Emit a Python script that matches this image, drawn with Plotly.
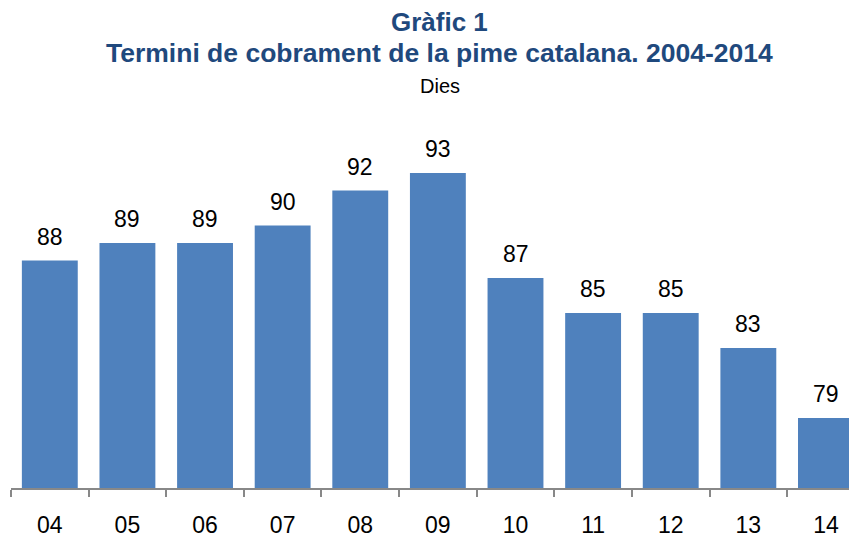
import plotly.graph_objects as go

years = ["04", "05", "06", "07", "08", "09", "10", "11", "12", "13", "14"]
days = [88, 89, 89, 90, 92, 93, 87, 85, 85, 83, 79]

bar_color = "#4F81BD"
title_color = "#1F497D"
font_family = "Liberation Sans, Arial, sans-serif"

fig = go.Figure()
fig.add_trace(go.Bar(x=years, y=days, marker=dict(color=bar_color, line=dict(width=0)),
                     hoverinfo="x+y"))

for i, v in enumerate(days):
    fig.add_annotation(x=i, y=v, text=str(v), showarrow=False, yanchor="middle",
                       yshift=24, font=dict(size=23, color="#000000", family=font_family))

fig.add_annotation(xref="paper", yref="paper", x=0.507, y=1.332, text="<b>Gràfic 1</b>",
                   showarrow=False, yanchor="middle", xanchor="center",
                   font=dict(size=26, color=title_color, family=font_family))
fig.add_annotation(xref="paper", yref="paper", x=0.507, y=1.244,
                   text="<b>Termini de cobrament de la pime catalana. 2004-2014</b>",
                   showarrow=False, yanchor="middle", xanchor="center",
                   font=dict(size=26.5, color=title_color, family=font_family))
fig.add_annotation(xref="paper", yref="paper", x=0.507, y=1.15, text="Dies",
                   showarrow=False, yanchor="middle", xanchor="center",
                   font=dict(size=20, color="#000000", family=font_family))

fig.update_layout(
    width=849, height=530,
    margin=dict(l=3, r=0, t=130, b=48),
    plot_bgcolor="white", paper_bgcolor="white",
    bargap=0.28,
    showlegend=False,
    font=dict(family=font_family),
)
fig.update_xaxes(type="category", range=[-0.5, 10.4], showline=True, linecolor="#888888",
                 linewidth=1.5, ticks="outside", tickson="boundaries", ticklen=7,
                 tickcolor="#888888", tickwidth=1.5,
                 tickfont=dict(size=23, color="#000000", family=font_family),
                 ticklabelstandoff=16, showgrid=False, zeroline=False)
fig.update_yaxes(range=[75, 95], visible=False, showgrid=False, zeroline=False)

fig.write_html("out.html")
